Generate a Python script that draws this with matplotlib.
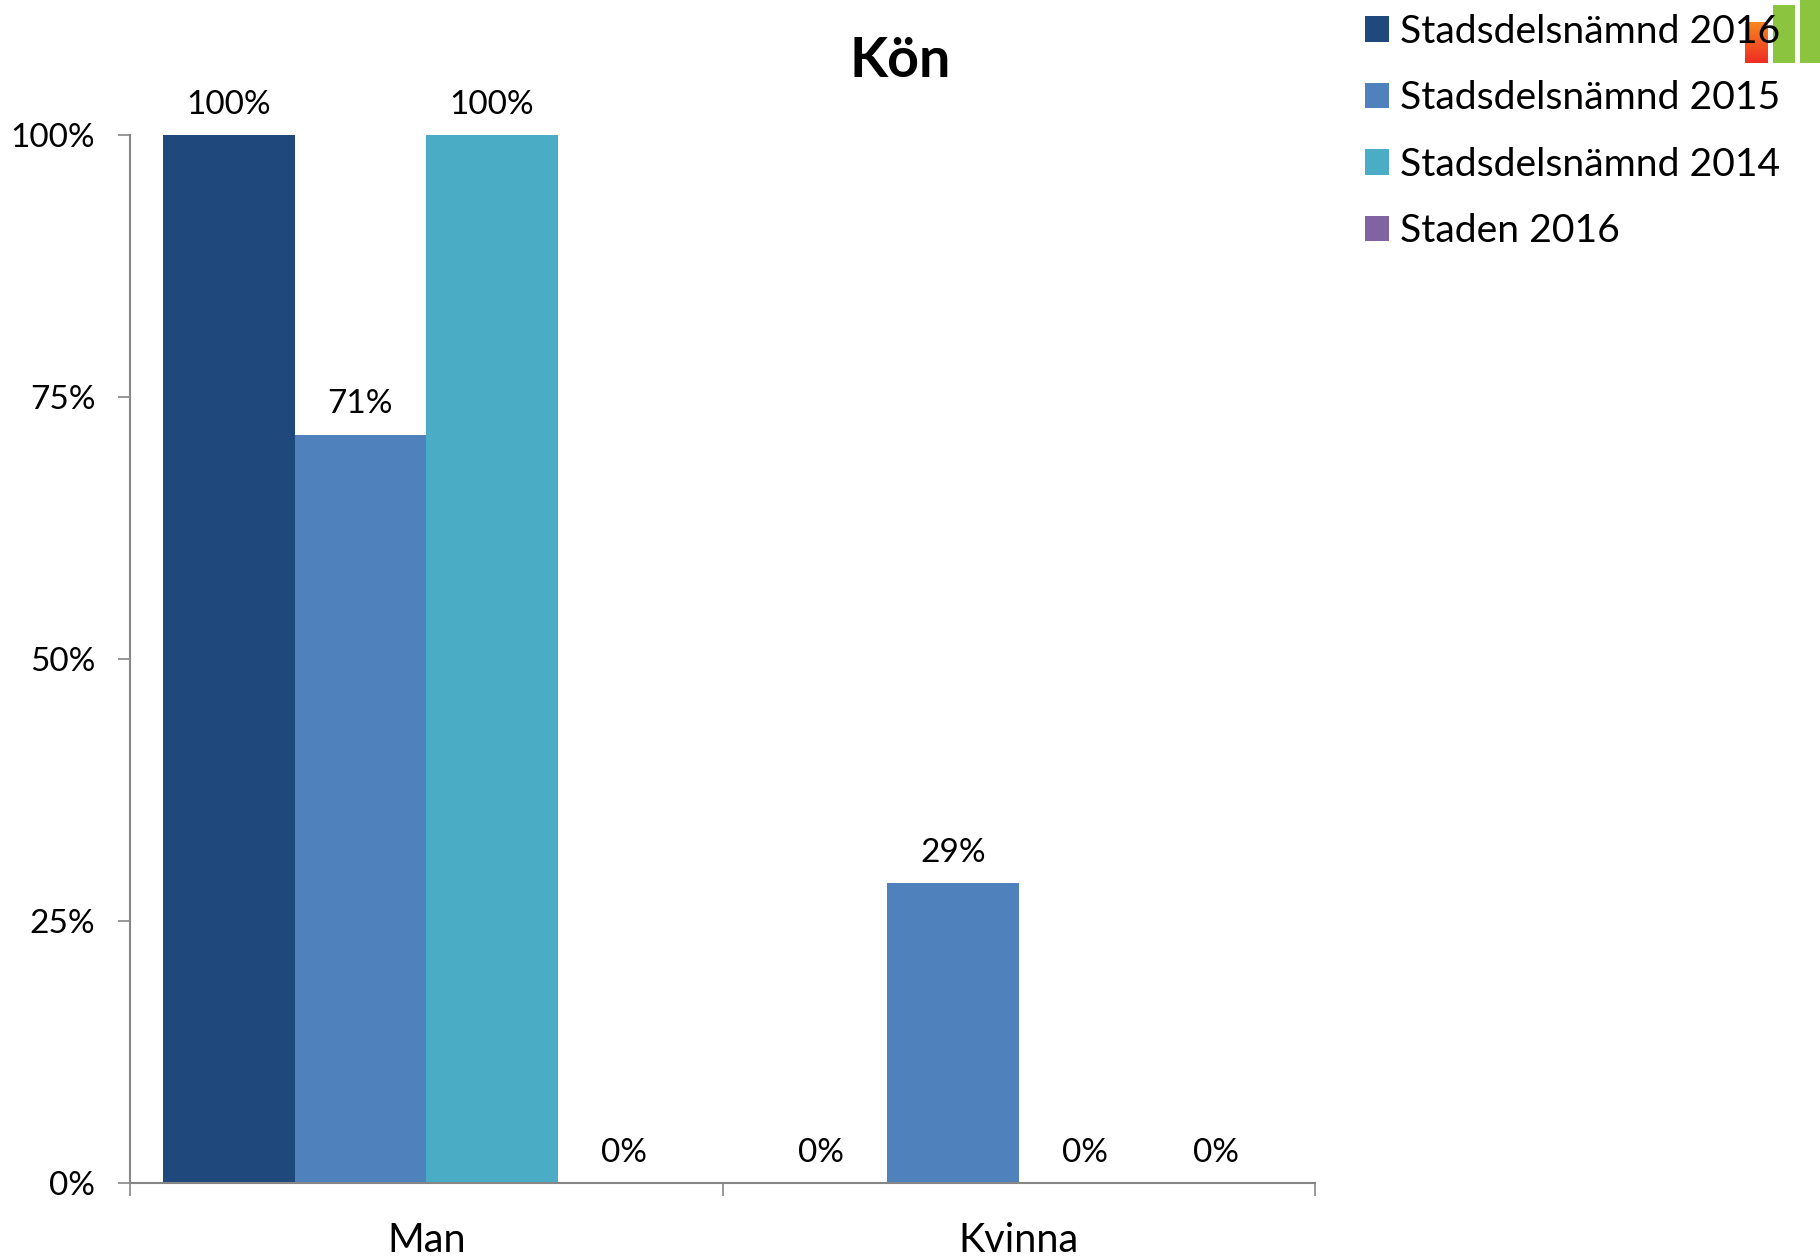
import numpy as np
import matplotlib
matplotlib.use("Agg")
import matplotlib.pyplot as plt
from matplotlib.patches import Rectangle

plt.rcParams['font.family'] = ['Lato', 'DejaVu Sans']

categories = ["Man", "Kvinna"]
series_names = ["Stadsdelsnämnd 2016", "Stadsdelsnämnd 2015", "Stadsdelsnämnd 2014", "Staden 2016"]
colors = ["#1F497D", "#4F81BD", "#4BACC6", "#8064A2"]
s2016 = [100, 0]
s2015 = [71.4, 28.6]
s2014 = [100, 0]
staden = [0, 0]
yticks = [0, 25, 50, 75, 100]
ylabels = ["0%", "25%", "50%", "75%", "100%"]

W, H = 1820, 1258
fig = plt.figure(figsize=(W / 100, H / 100), dpi=100)
ax = fig.add_axes([130 / W, 1 - 1183 / H, (1315 - 130) / W, (1183 - 135) / H])

x = np.arange(len(categories))
width = 0.2222
for i, vals in enumerate([s2016, s2015, s2014, staden]):
    bars = ax.bar(x + (i - 1.5) * width, vals, width, color=colors[i], label=series_names[i])
    ax.bar_label(bars, fmt="%.0f%%", padding=11, fontsize=24, color="black")

ax.set_xlim(-0.5, 1.5)
ax.set_ylim(0, 100)
ax.set_yticks(yticks)
ax.set_yticklabels(ylabels)
ax.set_xticks([-0.5, 0.5, 1.5])
ax.set_xticklabels([])
ax.set_xticks(x, minor=True)
ax.set_xticklabels(categories, minor=True)
ax.tick_params(axis="y", length=9, width=1.2, color="#868686", labelsize=24, pad=16)
ax.tick_params(axis="x", which="major", length=9, width=1.2, color="#868686")
ax.tick_params(axis="x", which="minor", length=0, labelsize=28.5, pad=28)
for name in ["top", "right"]:
    ax.spines[name].set_visible(False)
for name in ["left", "bottom"]:
    ax.spines[name].set_color("#868686")
    ax.spines[name].set_linewidth(1.5)

fig.text(900 / W, 1 - 61 / H, "Kön", fontsize=40, fontweight="bold", ha="center", va="center")

# the small logo in the corner, sits under the legend text
logo = fig.add_axes([0, 0, 1, 1], zorder=-1)
logo.set_xlim(0, W)
logo.set_ylim(H, 0)
logo.axis("off")
grad = np.linspace(0, 1, 64).reshape(-1, 1)
cmap = matplotlib.colors.LinearSegmentedColormap.from_list("logo", ["#F8861F", "#EE2D24"])
logo.imshow(grad, cmap=cmap, extent=(1745, 1768, 63, 22), aspect="auto")
logo.add_patch(Rectangle((1773, 5), 22, 58, color="#8BC53F", lw=0))
logo.add_patch(Rectangle((1800, 0), 20, 63, color="#8BC53F", lw=0))
logo.set_xlim(0, W)
logo.set_ylim(H, 0)

ax.patch.set_alpha(0)
handles, labels = ax.get_legend_handles_labels()
fig.legend(handles, labels, loc="upper left", bbox_to_anchor=(1355 / W, 1 - 3.5 / H),
           bbox_transform=fig.transFigure, frameon=False, fontsize=28.2,
           handlelength=0.62, handleheight=0.62, handletextpad=0.28, labelspacing=0.78,
           borderpad=0.26, borderaxespad=0)

fig.savefig("out.png", dpi=100, facecolor="white")
